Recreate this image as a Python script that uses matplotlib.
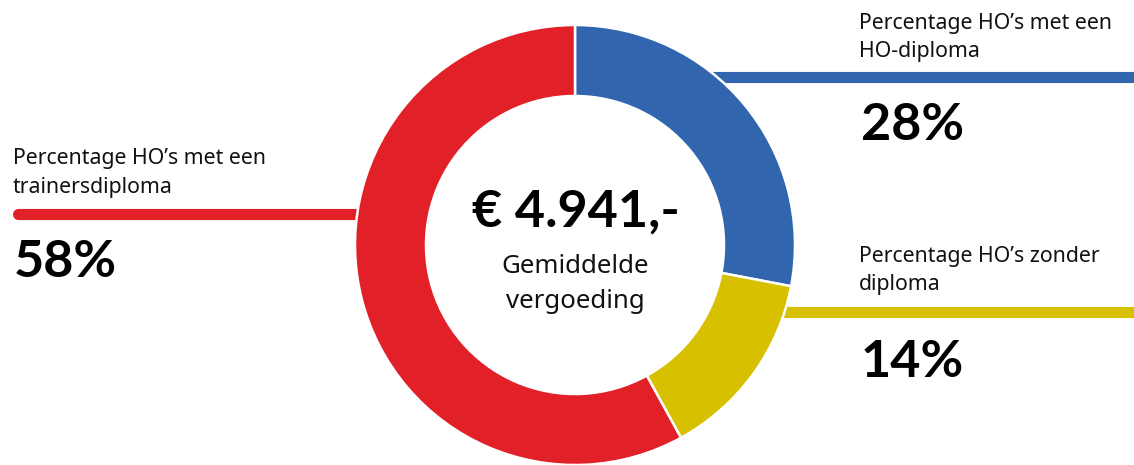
import matplotlib
matplotlib.use("Agg")
import matplotlib.pyplot as plt

plt.rcParams["font.family"] = ["Noto Sans", "DejaVu Sans"]
BOLD = ["Lato", "Roboto", "DejaVu Sans"]

# data (clockwise from 12 o'clock)
categories = ["HO-diploma", "zonder diploma", "trainersdiploma"]
shares = [28, 14, 58]
colors = ["#3166AF", "#D7C000", "#E12027"]
labels = [
    "Percentage HO\u2019s met een\nHO-diploma",
    "Percentage HO\u2019s zonder\ndiploma",
    "Percentage HO\u2019s met een\ntrainersdiploma",
]
center_value = "\u20ac 4.941,-"
center_caption = "Gemiddelde\nvergoeding"

W, H = 1134, 465
fig = plt.figure(figsize=(W / 100, H / 100), dpi=100)
ax = fig.add_axes([0, 0, 1, 1])

cx, cy = 575, H - 245
R, ring = 220, 71

ax.pie(shares, colors=colors, startangle=90, counterclock=False,
       center=(cx, cy), radius=R,
       wedgeprops=dict(width=ring, edgecolor="white", linewidth=1.8))

# leader lines: x0, x1, y (image px)
leaders = [(705, W + 10, 77), (775, W + 10, 312), (18, 400, 214)]
for (x0, x1, y), c in zip(leaders, colors):
    ax.plot([x0, x1], [H - y, H - y], color=c, lw=8, solid_capstyle="round",
            zorder=0)

# label positions: x, first baseline, second baseline, pct x, pct baseline
pos = [(859, 29, 57, 861, 140), (859, 262, 290, 861, 377),
       (13, 164, 193, 14, 277)]
for text, share, (tx, b1, b2, px, pb) in zip(labels, shares, pos):
    l1, l2 = text.split("\n")
    ax.text(tx, H - b1, l1, fontsize=15.3, va="baseline", color="#111111")
    ax.text(tx, H - b2, l2, fontsize=15.3, va="baseline", color="#111111")
    ax.text(px, H - pb, f"{share}%", fontsize=37.5, fontweight="bold",
            family=BOLD, va="baseline", color="black")

ax.text(cx + 1, H - 227, center_value, fontsize=37.5, fontweight="bold",
        family=BOLD, ha="center", va="baseline", color="black")
c1, c2 = center_caption.split("\n")
ax.text(cx, H - 273, c1, fontsize=18.6, ha="center", va="baseline", color="#111111")
ax.text(cx, H - 308, c2, fontsize=18.6, ha="center", va="baseline", color="#111111")

ax.set_xlim(0, W)
ax.set_ylim(0, H)
ax.set_aspect("auto")
ax.axis("off")
fig.savefig("out.png", dpi=100)
